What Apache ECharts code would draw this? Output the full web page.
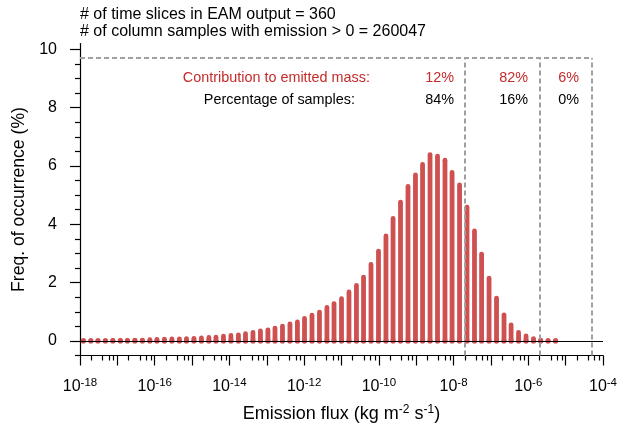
<!DOCTYPE html>
<html><head><meta charset="utf-8">
<script src="https://cdn.jsdelivr.net/npm/echarts@6/dist/echarts.min.js"></script>
<style>html,body{margin:0;padding:0;background:#fff}#c{width:618px;height:430px}</style>
</head><body><div id="c"></div>
<script>
// bin centres (log10 of emission flux, kg m-2 s-1)
const binExp = [-17.91,-17.71,-17.52,-17.32,-17.12,-16.92,-16.73,-16.53,-16.33,-16.13,
  -15.94,-15.74,-15.54,-15.34,-15.15,-14.95,-14.75,-14.55,-14.36,-14.16,
  -13.96,-13.76,-13.57,-13.37,-13.17,-12.97,-12.78,-12.58,-12.38,-12.18,
  -11.99,-11.79,-11.59,-11.39,-11.20,-11.00,-10.80,-10.60,-10.41,-10.21,
  -10.01,-9.81,-9.62,-9.42,-9.22,-9.02,-8.83,-8.63,-8.43,-8.23,
  -8.04,-7.84,-7.64,-7.44,-7.25,-7.05,-6.85,-6.65,-6.46,-6.26,
  -6.06,-5.86,-5.67,-5.47,-5.27];
// frequency of occurrence (%)
const freq = [0.01,0.01,0.01,0.01,0.02,0.02,0.02,0.03,0.03,0.04,
  0.05,0.06,0.07,0.07,0.08,0.09,0.10,0.12,0.13,0.16,
  0.19,0.21,0.25,0.29,0.34,0.38,0.44,0.51,0.58,0.65,
  0.77,0.88,0.99,1.15,1.28,1.45,1.68,1.90,2.19,2.62,
  3.08,3.60,4.20,4.76,5.30,5.69,6.05,6.39,6.34,6.20,
  5.78,5.35,4.59,3.77,2.98,2.15,1.47,0.89,0.55,0.29,
  0.17,0.08,0.03,0.01,0.01];
const xMajorTicks = [-18,-17,-16,-15,-14,-13,-12,-11,-10,-9,-8,-7,-6,-5,-4];
const xLabelExps = [-18,-16,-14,-12,-10,-8,-6,-4];
const yMajorTicks = [0,2,4,6,8,10];
const yMinorTicks = [-0.5,0.5,1,1.5,2.5,3,3.5,4.5,5,5.5,6.5,7,7.5,8.5,9,9.5];
const regionEdgeFlux = [2e-8, 2e-6, 5e-5];
const boxTop = 9.7;
const massContrib = ['12%','82%','6%'];
const samplePct = ['84%','16%','0%'];
const titleLines = ['# of time slices in EAM output = 360', '# of column samples with emission > 0 = 260047'];

const xMinorTicks = [];
xMajorTicks.slice(0,-1).forEach(n => [2,4,6,8].forEach(m => xMinorTicks.push(n + Math.log10(m))));
const edgeExp = regionEdgeFlux.map(v => Math.log10(v));

const FONT = '"Liberation Sans", Arial, Helvetica, sans-serif';
const barColor = '#cf5050';
const red = '#c62a2a';
const dashStyle = {color:'#a0a0a0', width:2, type:[5,3]};

const markData = edgeExp.map(e => [{coord:[e,-0.5], lineStyle:dashStyle},{coord:[e,boxTop]}]);
markData.push([{coord:[-18,boxTop], lineStyle:dashStyle},{coord:[edgeExp[edgeExp.length-1],boxTop]}]);

const chart = echarts.init(document.getElementById('c'), null, {renderer:'canvas'});
const rowX = [454, 528, 579];
const rowFont = '14.4px ' + FONT;
const graphics = [
  {type:'text', x:80, y:15, style:{text:titleLines[0], fill:'#000', font:'16px '+FONT, textAlign:'left', textVerticalAlign:'middle'}},
  {type:'text', x:80, y:32, style:{text:titleLines[1], fill:'#000', font:'16px '+FONT, textAlign:'left', textVerticalAlign:'middle'}},
  {type:'text', x:370, y:78, style:{text:'Contribution to emitted mass:', fill:red, font:rowFont, textAlign:'right', textVerticalAlign:'middle'}},
  {type:'text', x:355, y:100.5, style:{text:'Percentage of samples:', fill:'#000', font:rowFont, textAlign:'right', textVerticalAlign:'middle'}}
];
massContrib.forEach((t,i) => graphics.push({type:'text', x:rowX[i], y:78, style:{text:t, fill:red, font:rowFont, textAlign:'right', textVerticalAlign:'middle'}}));
samplePct.forEach((t,i) => graphics.push({type:'text', x:rowX[i], y:100.5, style:{text:t, fill:'#000', font:rowFont, textAlign:'right', textVerticalAlign:'middle'}}));

const axisLineStyle = {color:'#000', width:1.2};
chart.setOption({
  animation:false,
  backgroundColor:'#fff',
  textStyle:{fontFamily:FONT},
  grid:{left:80, right:15, top:43.5, bottom:74.5, containLabel:false, outerBoundsMode:'none'},
  xAxis:[{
    type:'value', min:-18, max:-4, position:'bottom',
    axisLine:{onZero:false, lineStyle:axisLineStyle},
    axisTick:{customValues:xMajorTicks, length:10, lineStyle:axisLineStyle},
    axisLabel:{customValues:xLabelExps, margin:21, color:'#000',
      formatter: v => '{b|10}{s|' + v + '}',
      rich:{b:{fontSize:16, fontFamily:FONT, color:'#000'}, s:{fontSize:11.5, fontFamily:FONT, color:'#000', padding:[0,0,9,0]}}},
    splitLine:{show:false},
    name:'Emission flux (kg m{s|-2} s{s|-1})', nameLocation:'middle', nameGap:48,
    nameTextStyle:{fontSize:18, color:'#000', fontFamily:FONT, rich:{s:{fontSize:12, fontFamily:FONT, color:'#000', padding:[0,0,10,0]}}}
  },{
    type:'value', min:-18, max:-4, position:'bottom',
    axisLine:{show:false, onZero:false},
    axisTick:{customValues:xMinorTicks, length:5, lineStyle:axisLineStyle},
    axisLabel:{show:false}, splitLine:{show:false}
  }],
  yAxis:[{
    type:'value', min:-0.5, max:10.2, position:'left',
    axisLine:{onZero:false, lineStyle:axisLineStyle},
    axisTick:{customValues:yMajorTicks, length:10, lineStyle:axisLineStyle},
    axisLabel:{customValues:yMajorTicks, fontSize:16, color:'#000', margin:23},
    splitLine:{show:false},
    name:'Freq. of occurrence (%)', nameLocation:'middle', nameGap:41,
    nameTextStyle:{fontSize:17.6, color:'#000', fontFamily:FONT}
  },{
    type:'value', min:-0.5, max:10.2, position:'left',
    axisLine:{show:false, onZero:false},
    axisTick:{customValues:yMinorTicks, length:5, lineStyle:axisLineStyle},
    axisLabel:{show:false}, splitLine:{show:false}
  }],
  graphic: graphics,
  series:[{
    type:'line', data:[], silent:true, z:1,
    markLine:{silent:true, symbol:'none', animation:false, label:{show:false},
      data:[[{coord:[-18,0], lineStyle:{color:'#000', width:1.2, type:'solid'}},{coord:[-4,0]}]]}
  },{
    type:'custom', z:2, xAxisIndex:0, yAxisIndex:0,
    data: binExp.map((e,i) => [e, freq[i]]),
    encode:{x:0, y:1},
    renderItem: function(params, api){
      const x = api.value(0), v = api.value(1);
      const b = api.coord([x,0]), t = api.coord([x,v]);
      return {type:'group', children:[
        {type:'line', shape:{x1:b[0],y1:b[1],x2:t[0],y2:t[1]}, style:{stroke:barColor, lineWidth:4.8, lineCap:'round'}},
        {type:'circle', shape:{cx:b[0],cy:b[1],r:2.6}, style:{fill:barColor}}
      ]};
    }
  },{
    type:'line', data:[], silent:true, z:3,
    markLine:{silent:true, symbol:'none', animation:false, label:{show:false}, data:markData}
  }]
});
</script></body></html>
